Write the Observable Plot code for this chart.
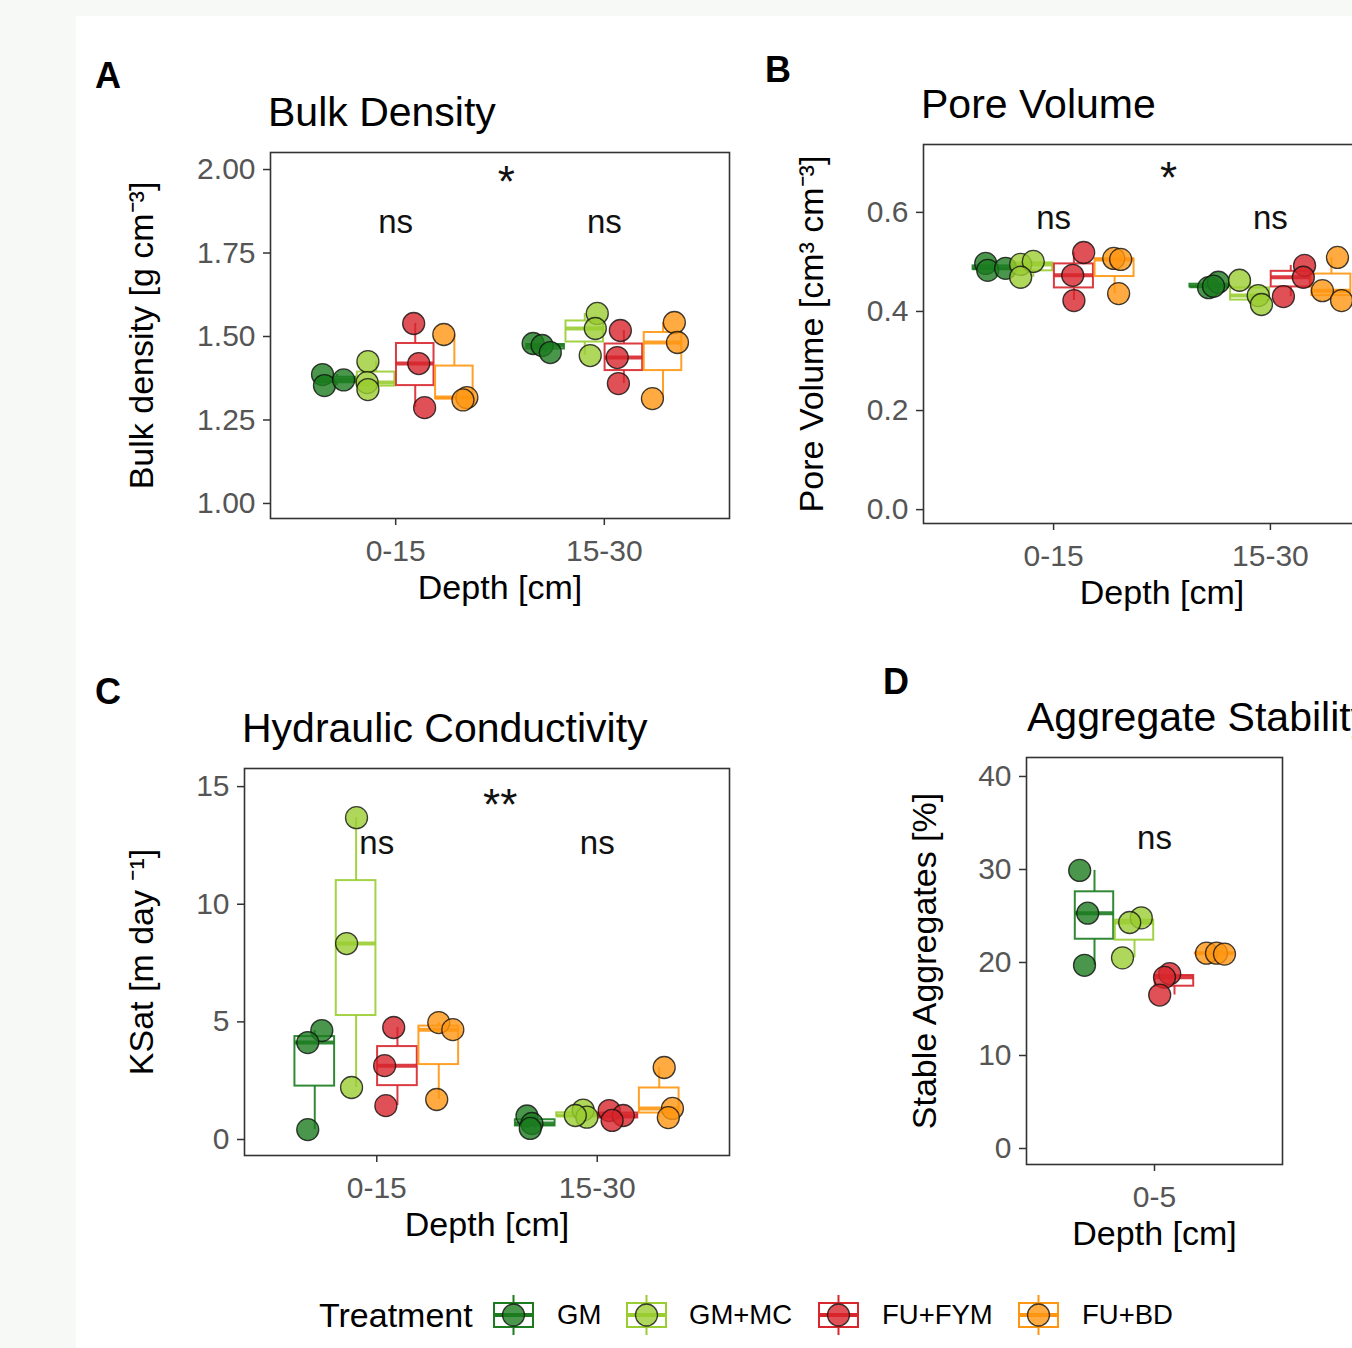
<!DOCTYPE html>
<html>
<head>
<meta charset="utf-8">
<script src="https://cdn.jsdelivr.net/npm/d3@7"></script>
<script src="https://cdn.jsdelivr.net/npm/@observablehq/plot@0.6"></script>
<style>
  html, body { margin: 0; padding: 0; width: 1352px; height: 1348px; overflow: hidden; background: #f7f9f7; }
  body { position: relative; font-family: "Liberation Sans", Arial, Helvetica, sans-serif; color: #000; }
  #sheet { position: absolute; left: 76px; top: 16px; width: 1276px; height: 1332px; background: #fff; }
  .abs { position: absolute; white-space: nowrap; line-height: 1; }
  .tag { font-weight: bold; font-size: 36px; }
  .title { font-size: 41px; }
  .legtitle { font-size: 34px; }
  .leglab { font-size: 27.5px; }
</style>
</head>
<body>
<div id="sheet"></div>
<script>
// ---------- data ----------
const treatments = ["GM", "GM+MC", "FU+FYM", "FU+BD"];
const treatmentColors = ["#1c7c1f", "#9acd32", "#d7262c", "#ff9612"];
const depths = ["0-15", "15-30"];
const aggregateDepths = ["0-5"];

// three replicates per treatment (order: GM, GM+MC, FU+FYM, FU+BD)
const bulkDensity_0_15  = [[1.386, 1.353, 1.370], [1.425, 1.362, 1.341], [1.539, 1.419, 1.287], [1.506, 1.317, 1.310]];
const bulkDensity_15_30 = [[1.479, 1.473, 1.452], [1.569, 1.524, 1.443], [1.518, 1.437, 1.359], [1.542, 1.482, 1.314]];
const poreVolume_0_15   = [[0.497, 0.483, 0.487], [0.495, 0.501, 0.469], [0.519, 0.473, 0.422], [0.507, 0.505, 0.436]];
const poreVolume_15_30  = [[0.448, 0.459, 0.451], [0.463, 0.432, 0.414], [0.493, 0.469, 0.430], [0.509, 0.442, 0.422]];
const ksat_0_15         = [[4.63, 4.12, 0.42], [13.68, 8.33, 2.21], [4.76, 3.14, 1.44], [4.97, 4.67, 1.70]];
const ksat_15_30        = [[1.00, 0.68, 0.47], [1.25, 0.95, 1.02], [1.23, 1.02, 0.81], [3.06, 1.32, 0.93]];
const aggregates_0_5    = [[29.9, 25.3, 19.7], [24.8, 24.3, 20.5], [18.8, 18.4, 16.5], [21.0, 21.0, 20.9]];

// observed horizontal jitter of each point (fraction of a dodge slot)
const bulkDensityJitter_0_15  = [[-0.37, -0.32, 0.17], [-0.21, -0.23, -0.21], [-0.04, 0.09, 0.24], [-0.27, 0.32, 0.22]];
const bulkDensityJitter_15_30 = [[-0.32, -0.09, 0.12], [0.32, 0.27, 0.14], [-0.09, -0.17, -0.14], [0.29, 0.37, -0.27]];
const poreVolumeJitter_0_15   = [[-0.17, -0.12, 0.32], [-0.31, 0.0, -0.31], [0.24, -0.03, 0.0], [-0.02, 0.15, 0.10]];
const poreVolumeJitter_15_30  = [[-0.02, 0.22, 0.10], [-0.26, 0.20, 0.28], [0.34, 0.31, -0.18], [0.15, -0.22, 0.25]];
const ksatJitter_0_15         = [[0.17, -0.17, -0.17], [0.01, -0.23, -0.11], [-0.09, -0.31, -0.28], [0.0, 0.34, -0.05]];
const ksatJitter_15_30        = [[-0.20, -0.08, -0.12], [0.16, 0.25, -0.03], [-0.21, 0.13, -0.14], [0.12, 0.32, 0.22]];
const aggregatesJitter_0_5    = [[-0.37, -0.17, -0.25], [0.17, -0.12, -0.30], [-0.12, -0.25, -0.37], [-0.20, 0.05, 0.25]];

// significance annotations: label, x (depth position), y (data units)
const bulkDensitySig = [["ns", 1, 1.841], ["ns", 2, 1.841], ["*", 1.53, 1.960]];
const poreVolumeSig  = [["ns", 1, 0.588], ["ns", 2, 0.588], ["*", 1.53, 0.667]];
const ksatSig        = [["ns", 1, 12.58], ["ns", 2, 12.58], ["**", 1.56, 14.2]];
const aggregatesSig  = [["ns", 1, 33.3]];

// axis ticks
const bulkDensityTicks = [1.00, 1.25, 1.50, 1.75, 2.00];
const poreVolumeTicks = [0.0, 0.2, 0.4, 0.6];
const ksatTicks = [0, 5, 10, 15];
const aggregatesTicks = [0, 10, 20, 30, 40];

// ---------- helpers ----------
const slot = 0.1875;     // dodge width 0.75 / 4 treatments
const boxHalf = 0.09;

function buildRows(depthLabels, valuesByDepth, jitterByDepth) {
  const out = [];
  depthLabels.forEach((depth, di) => {
    treatments.forEach((treatment, ti) => {
      valuesByDepth[di][ti].forEach((value, k) => {
        const xc = di + 1 + (ti - 1.5) * slot;
        out.push({depth, di, treatment, ti, value, xc, xj: xc + jitterByDepth[di][ti][k] * slot});
      });
    });
  });
  return out;
}

function buildStats(rows) {
  const out = [];
  for (const [, byDepth] of d3.groups(rows, d => d.di)) {
    for (const [, g] of d3.groups(byDepth, d => d.ti)) {
      const s = g.map(d => d.value).sort(d3.ascending);
      const q1 = d3.quantileSorted(s, 0.25), med = d3.quantileSorted(s, 0.5), q3 = d3.quantileSorted(s, 0.75);
      const iqr = q3 - q1;
      const lo = d3.min(s.filter(v => v >= q1 - 1.5 * iqr));
      const hi = d3.max(s.filter(v => v <= q3 + 1.5 * iqr));
      const xc = g[0].xc;
      out.push({treatment: g[0].treatment, xc, x1: xc - boxHalf, x2: xc + boxHalf, q1, med, q3, lo, hi});
    }
  }
  return out;
}

function addDiv(cls, text, left, top) {
  const el = document.createElement("div");
  el.className = "abs " + cls;
  el.textContent = text;
  el.style.left = left + "px";
  el.style.top = top + "px";
  document.body.appendChild(el);
  return el;
}

function panel(cfg) {
  const mL = 180, mR = 20, mT = 20, mB = 100;
  const rows = buildRows(cfg.depthLabels, cfg.values, cfg.jitter);
  const stats = buildStats(rows);
  const sig = cfg.sig.map(([label, x, y]) => ({label, x, y}));
  const n = cfg.depthLabels.length;
  const plot = Plot.plot({
    width: cfg.frame.w + mL + mR,
    height: cfg.frame.h + mT + mB,
    marginLeft: mL, marginRight: mR, marginTop: mT, marginBottom: mB,
    style: {fontFamily: "'Liberation Sans', Arial, Helvetica, sans-serif", background: "transparent", color: "#000", overflow: "visible"},
    x: {domain: [0.4, n + 0.6]},
    y: {domain: cfg.yDomain},
    color: {domain: treatments, range: treatmentColors},
    marks: [
      Plot.axisY({ticks: cfg.yTicks, tickFormat: cfg.yFormat, tickSize: 7, tickPadding: 8, fontSize: 30, fill: "#555", stroke: "#333", strokeWidth: 1.5, label: null}),
      Plot.axisX({ticks: d3.range(1, n + 1), tickFormat: d => cfg.depthLabels[d - 1], tickSize: 7, tickPadding: 14, fontSize: 30, fill: "#555", stroke: "#333", strokeWidth: 1.5, label: null}),
      Plot.ruleX(stats, {x: "xc", y1: "q3", y2: "hi", stroke: "treatment", strokeWidth: 2, strokeOpacity: 0.9}),
      Plot.ruleX(stats, {x: "xc", y1: "lo", y2: "q1", stroke: "treatment", strokeWidth: 2, strokeOpacity: 0.9}),
      Plot.rect(stats, {x1: "x1", x2: "x2", y1: "q1", y2: "q3", fill: "white", stroke: "treatment", strokeWidth: 2, strokeOpacity: 0.9}),
      Plot.ruleY(stats, {x1: "x1", x2: "x2", y: "med", stroke: "treatment", strokeWidth: 4, strokeOpacity: 0.9}),
      Plot.dot(rows, {x: "xj", y: "value", r: 11, fill: "treatment", fillOpacity: 0.8, stroke: "#111", strokeOpacity: 0.8, strokeWidth: 1.3}),
      Plot.text(sig, {x: "x", y: "y", text: "label", fontSize: d => d.label === "ns" ? 33 : 44, fill: "#111"}),
      Plot.text([cfg.yTitle], {text: d => d, frameAnchor: "left", textAnchor: "middle", lineAnchor: "middle", rotate: -90, dx: -cfg.yTitleOffset, fontSize: 34, fill: "#000"}),
      Plot.text(["Depth [cm]"], {text: d => d, frameAnchor: "bottom", textAnchor: "middle", lineAnchor: "middle", dy: 70, fontSize: 34, fill: "#000"}),
      Plot.frame({stroke: "#333", strokeWidth: 1.6})
    ]
  });
  plot.style.position = "absolute";
  plot.style.left = (cfg.frame.x - mL) + "px";
  plot.style.top = (cfg.frame.y - mT) + "px";
  document.body.appendChild(plot);
}

// ---------- panels ----------
panel({
  depthLabels: depths, values: [bulkDensity_0_15, bulkDensity_15_30], jitter: [bulkDensityJitter_0_15, bulkDensityJitter_15_30],
  frame: {x: 270, y: 152, w: 459, h: 366}, yDomain: [0.955, 2.051], yTicks: bulkDensityTicks, yFormat: d3.format(".2f"),
  yTitle: "Bulk density [g cm\u207B\u00B3]", yTitleOffset: 128, sig: bulkDensitySig
});
panel({
  depthLabels: depths, values: [poreVolume_0_15, poreVolume_15_30], jitter: [poreVolumeJitter_0_15, poreVolumeJitter_15_30],
  frame: {x: 923, y: 144, w: 477, h: 379}, yDomain: [-0.028, 0.737], yTicks: poreVolumeTicks, yFormat: d3.format(".1f"),
  yTitle: "Pore Volume [cm\u00B3 cm\u207B\u00B3]", yTitleOffset: 111, sig: poreVolumeSig
});
panel({
  depthLabels: depths, values: [ksat_0_15, ksat_15_30], jitter: [ksatJitter_0_15, ksatJitter_15_30],
  frame: {x: 244, y: 768, w: 485, h: 387}, yDomain: [-0.68, 15.77], yTicks: ksatTicks, yFormat: d3.format("d"),
  yTitle: "KSat [m day \u207B\u00B9]", yTitleOffset: 102, sig: ksatSig
});
panel({
  depthLabels: aggregateDepths, values: [aggregates_0_5], jitter: [aggregatesJitter_0_5],
  frame: {x: 1026, y: 757, w: 256, h: 407}, yDomain: [-1.72, 42.04], yTicks: aggregatesTicks, yFormat: d3.format("d"),
  yTitle: "Stable Aggregates [%]", yTitleOffset: 101, sig: aggregatesSig
});

// ---------- tags and titles ----------
addDiv("tag", "A", 95, 58);
addDiv("tag", "B", 765, 52);
addDiv("tag", "C", 95, 674);
addDiv("tag", "D", 883, 664);
addDiv("title", "Bulk Density", 268, 92);
addDiv("title", "Pore Volume", 921, 84);
addDiv("title", "Hydraulic Conductivity", 242, 708);
addDiv("title", "Aggregate Stability", 1027, 697);

// ---------- legend ----------
addDiv("legtitle", "Treatment", 319, 1298);
const keyLefts = [492, 625, 817, 1017];
const labelLefts = [557, 689, 882, 1082];
treatments.forEach((t, i) => {
  const c = treatmentColors[i];
  const svg = d3.create("svg").attr("width", 43).attr("height", 40)
    .style("position", "absolute").style("left", keyLefts[i] + "px").style("top", "1295px");
  svg.append("line").attr("x1", 21.5).attr("x2", 21.5).attr("y1", 0).attr("y2", 40).attr("stroke", c).attr("stroke-width", 2);
  svg.append("rect").attr("x", 2).attr("y", 8).attr("width", 39).attr("height", 24).attr("fill", "white").attr("stroke", c).attr("stroke-width", 2);
  svg.append("line").attr("x1", 2).attr("x2", 41).attr("y1", 20).attr("y2", 20).attr("stroke", c).attr("stroke-width", 4);
  svg.append("circle").attr("cx", 21.5).attr("cy", 20).attr("r", 11).attr("fill", c).attr("fill-opacity", 0.8).attr("stroke", "#111").attr("stroke-opacity", 0.8).attr("stroke-width", 1.3);
  document.body.appendChild(svg.node());
  addDiv("leglab", t, labelLefts[i], 1301);
});
</script>
</body>
</html>
